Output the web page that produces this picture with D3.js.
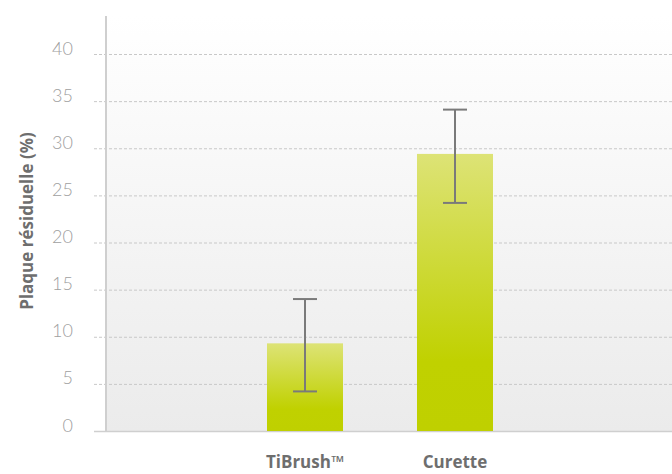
<!DOCTYPE html>
<html><head><meta charset="utf-8">
<script src="https://cdn.jsdelivr.net/npm/d3@7"></script>
<style>body{margin:0;background:#fff;}svg{display:block;}</style>
</head><body>
<script>
const categories = ["TiBrush™", "Curette"];
const values = [9.3, 29.4];
const errLow = [4.2, 24.2];
const errHigh = [14.0, 34.1];
const yTicks = [0, 5, 10, 15, 20, 25, 30, 35, 40];
const yTitle = "Plaque résiduelle (%)";

(function(){
const W = 672, H = 474;
const svg = d3.select("body").append("svg").attr("width", W).attr("height", H);
const defs = svg.append("defs");
const bg = defs.append("linearGradient").attr("id","bg").attr("x1",0).attr("y1",0).attr("x2",0).attr("y2",1);
bg.append("stop").attr("offset","0%").attr("stop-color","#ffffff");
bg.append("stop").attr("offset","100%").attr("stop-color","#ebebeb");
const bar = defs.append("linearGradient").attr("id","bar").attr("x1",0).attr("y1",0).attr("x2",0).attr("y2",1);
bar.append("stop").attr("offset","0%").attr("stop-color","#dde376");
bar.append("stop").attr("offset","75%").attr("stop-color","#c0d100");
bar.append("stop").attr("offset","100%").attr("stop-color","#bfd000");

const y = d3.scaleLinear().domain([0, 40]).range([431, 54]);
const x = d3.scaleBand().domain(categories).range([230, 530]).paddingInner(0.4933).paddingOuter(0.2467);
const pLeft = 106, pRight = 672, pTop = 16;

svg.append("rect").attr("x", pLeft).attr("y", pTop).attr("width", pRight-pLeft).attr("height", y(0)-pTop).attr("fill","url(#bg)");

svg.append("g").selectAll("line").data(yTicks.filter(d=>d>0)).join("line")
  .attr("x1", 94).attr("x2", pRight).attr("y1", d=>y(d)+0.5).attr("y2", d=>y(d)+0.5)
  .attr("stroke","#c8c8c8").attr("stroke-width",1).attr("stroke-dasharray","3,2");

svg.append("line").attr("x1", pLeft).attr("x2", pLeft).attr("y1", pTop).attr("y2", y(0))
  .attr("stroke","#cfcfcf").attr("stroke-width",2);
svg.append("line").attr("x1", 94).attr("x2", pRight).attr("y1", y(0)+0.5).attr("y2", y(0)+0.5)
  .attr("stroke","#cfcfcf").attr("stroke-width",1.5);

const yAxis = d3.axisLeft(y).tickValues(yTicks).tickSize(0).tickPadding(0);
const ga = svg.append("g").attr("transform", `translate(73,0)`).call(yAxis);
ga.select(".domain").remove();
ga.selectAll("text").attr("font-family","Lato, sans-serif").attr("font-weight",300)
  .attr("font-size",18).attr("fill","#a0a0a0").attr("dy","0");

svg.append("g").selectAll("rect").data(values).join("rect")
  .attr("x", (d,i)=>x(categories[i])).attr("width", x.bandwidth())
  .attr("y", d=>y(d)).attr("height", d=>y(0)-y(d)).attr("fill","url(#bar)");

const eg = svg.append("g").attr("stroke","#7a7a7a").attr("stroke-width",2);
categories.forEach((c,i)=>{
  const cx = x(c) + x.bandwidth()/2;
  eg.append("line").attr("x1",cx).attr("x2",cx).attr("y1",y(errHigh[i])).attr("y2",y(errLow[i]));
  eg.append("line").attr("x1",cx-12).attr("x2",cx+12).attr("y1",y(errHigh[i])).attr("y2",y(errHigh[i]));
  eg.append("line").attr("x1",cx-12).attr("x2",cx+12).attr("y1",y(errLow[i])).attr("y2",y(errLow[i]));
});

const xAxis = d3.axisBottom(x).tickSize(0).tickPadding(0);
const gx = svg.append("g").attr("transform", `translate(0,456)`).call(xAxis);
gx.select(".domain").remove();
gx.selectAll("text").attr("font-family","'Open Sans', sans-serif").attr("font-weight",700)
  .attr("font-size",17).attr("fill","#6e6e6e");

svg.append("text").attr("transform", `translate(33,221) rotate(-90)`)
  .attr("text-anchor","middle").attr("font-family","'Open Sans', sans-serif").attr("font-weight",700)
  .attr("font-size",17).attr("fill","#6e6e6e").text(yTitle);
})();
</script>
</body></html>
